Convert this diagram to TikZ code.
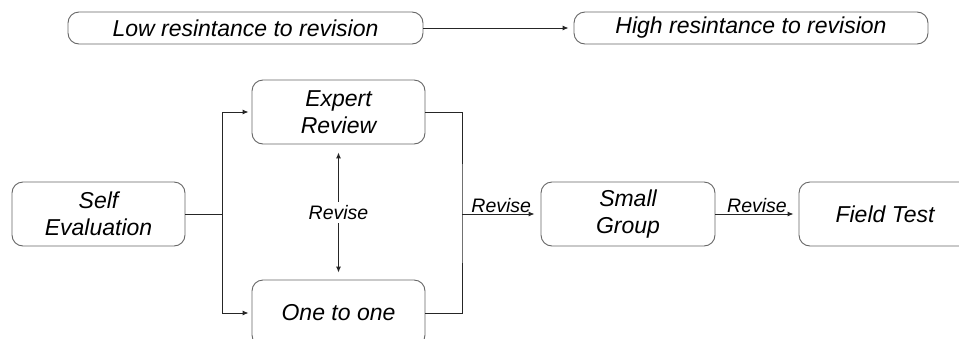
\documentclass[tikz,border=0pt]{standalone}
\usepackage{fontspec}
\setmainfont{Liberation Sans}
\usetikzlibrary{arrows.meta}
\begin{document}
\begin{tikzpicture}[x=1pt,y=-1pt,
  box/.style={draw=black!60, line width=0.9pt, rounded corners=11pt, align=center,
    font=\fontsize{23}{27}\selectfont\itshape, inner sep=0pt},
  conn/.style={draw=black!85, line width=1pt},
  arr/.style={conn, -{Latex[length=6pt,width=5pt]}},
  lbl/.style={font=\fontsize{19.5}{22}\selectfont\itshape, inner sep=1pt}]
\clip (0,0) rectangle (959,338);
\fill[white] (0,0) rectangle (959,338);
% top row
\node[box, minimum width=355pt, minimum height=32pt] (low) at (245.5,28) {Low resintance to revision};
\node[box, minimum width=354pt, minimum height=32pt] (high) at (751,28) {High resintance to revision};
\draw[arr, shorten >=5pt] (low.east) -- (high.west);
% main flow
\node[box, minimum width=173pt, minimum height=64pt] (self) at (98.5,214) {Self\\Evaluation};
\node[box, minimum width=173pt, minimum height=64pt] (expert) at (338.5,112) {Expert\\Review};
\node[box, minimum width=173pt, minimum height=66pt] (one) at (338.5,313) {One to one};
\node[box, minimum width=174pt, minimum height=64pt] (small) at (628,214) {Small\\Group};
\node[box, minimum width=172pt, minimum height=64pt] (field) at (885,214) {Field Test};
\coordinate (j1) at (222,214);
\coordinate (j2) at (462,214);
\draw[conn] (self.east) -- (j1);
\draw[arr, shorten >=3pt] (j1) |- (expert.west);
\draw[arr, shorten >=3pt] (j1) |- (one.west);
\draw[conn] (expert.east) -| (j2) |- (one.east);
\draw[arr, {Latex[length=6pt,width=5pt]}-{Latex[length=6pt,width=5pt]}]
  ([yshift=-8pt]expert.south) -- node[lbl, fill=white, inner sep=3pt] {Revise} ([yshift=7pt]one.north);
\draw[arr, shorten >=6pt] (j2) -- node[lbl, above] {Revise} (small.west);
\draw[arr, shorten >=5pt] (small.east) -- node[lbl, above] {Revise} (field.west);
\end{tikzpicture}
\end{document}
